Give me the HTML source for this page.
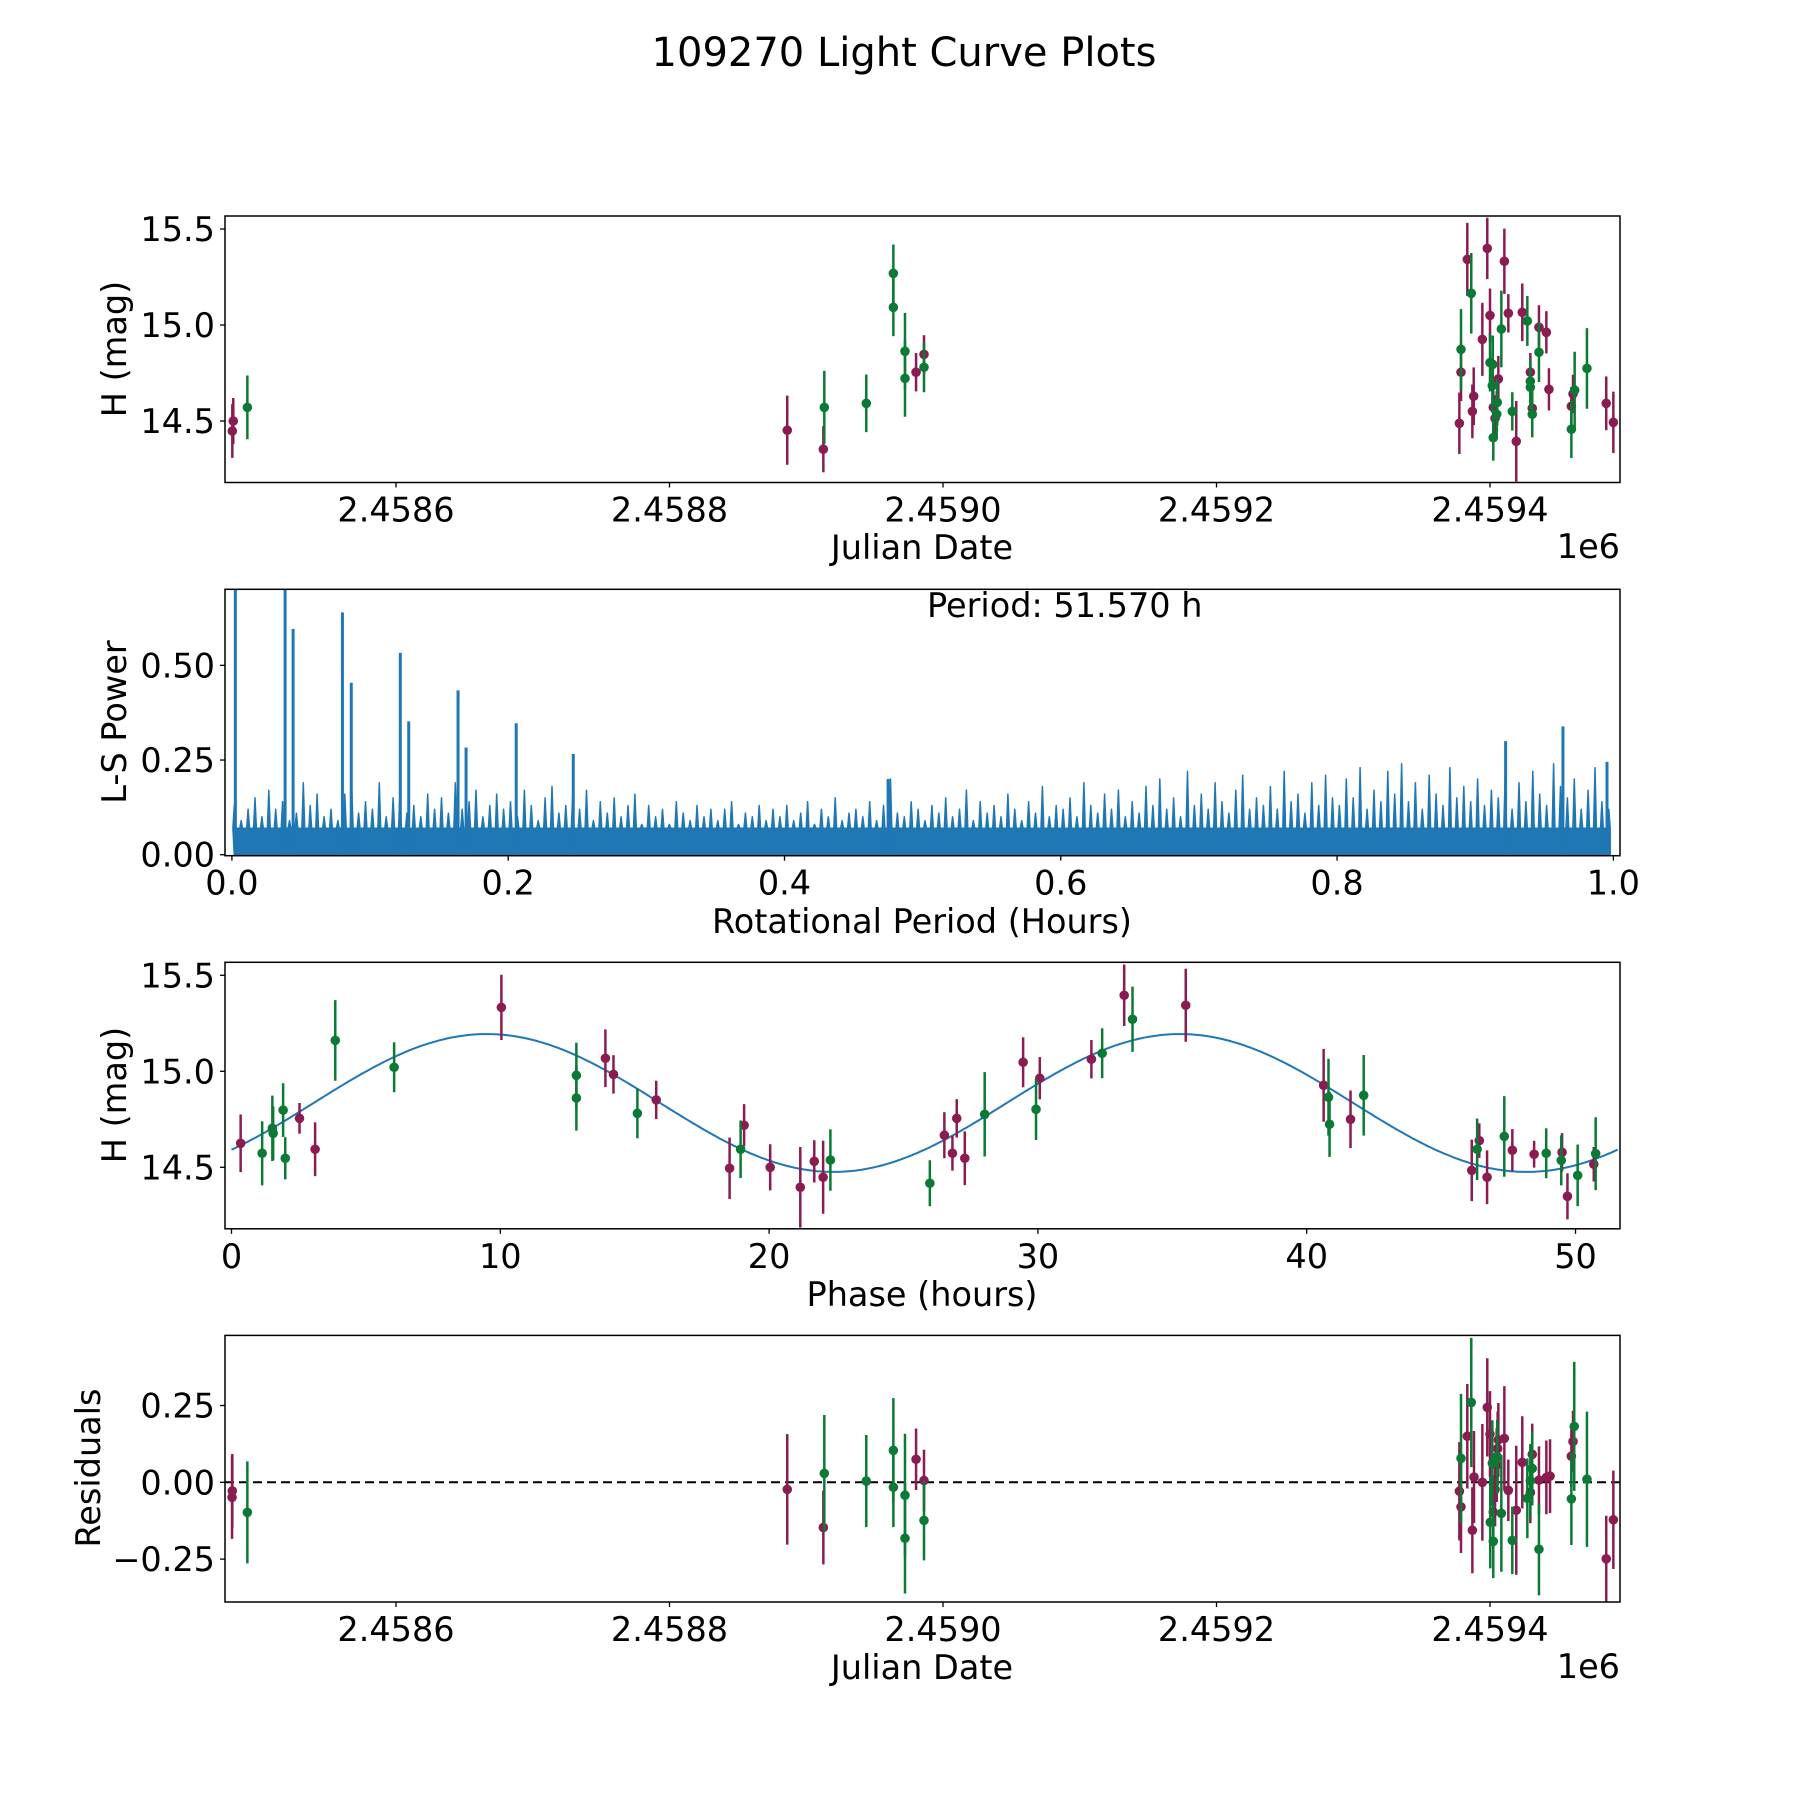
<!DOCTYPE html>
<html><head><meta charset="utf-8"><title>109270 Light Curve Plots</title>
<style>
html,body{margin:0;padding:0;background:#fff;}
svg{display:block;font-family:"DejaVu Sans","Liberation Sans",sans-serif;}
</style></head>
<body>
<svg id="fig" width="1800" height="1800" viewBox="0 0 1800 1800" xmlns="http://www.w3.org/2000/svg">
<rect width="1800" height="1800" fill="#fff"/>
<text x="904" y="66" font-size="40" text-anchor="middle">109270 Light Curve Plots</text>
</svg>
<script>
// ---------- Panel 1: H mag vs Julian Date ----------
const lcMagJD  = [2458480.3,2458481.0,2458886.1,2458912.5,2458980.3,2458986.1,2459383.4,2459398.0,2459410.5,2459378.8,2459377.6,2459394.4,2459400.0,2459413.4,2459423.6,2459435.8,2459441.2,2459406.1,2459388.1,2459387.1,2459402.4,2459403.7,2459419.2,2459429.5,2459430.9,2459443.1,2459460.7,2459459.5,2459485.0,2459490.2];
const lcMagH   = [14.448,14.5,14.452,14.353,14.754,14.847,15.342,15.399,15.332,14.754,14.488,14.925,15.05,15.061,15.066,14.988,14.962,14.719,14.629,14.55,14.571,14.514,14.394,14.754,14.566,14.665,14.641,14.577,14.592,14.493];
const lcMagErr = [0.14,0.12,0.18,0.12,0.1,0.1,0.19,0.16,0.17,0.15,0.16,0.19,0.14,0.1,0.15,0.115,0.11,0.12,0.15,0.14,0.12,0.12,0.21,0.1,0.1,0.11,0.1,0.1,0.14,0.16];
const lcGrnJD  = [2458491.3,2458913.2,2458943.9,2458963.7,2458963.7,2458972.2,2458972.2,2458986.1,2459386.3,2459378.8,2459400.0,2459402.0,2459408.3,2459427.3,2459435.8,2459401.7,2459405.3,2459404.9,2459402.4,2459416.3,2459429.5,2459429.5,2459430.9,2459461.9,2459459.5,2459470.9];
const lcGrnH   = [14.571,14.571,14.592,15.269,15.092,14.863,14.722,14.78,15.165,14.873,14.804,14.795,14.979,15.021,14.858,14.684,14.597,14.536,14.413,14.55,14.707,14.676,14.535,14.661,14.457,14.774];
const lcGrnErr = [0.166,0.19,0.15,0.15,0.15,0.2,0.2,0.13,0.21,0.21,0.15,0.15,0.2,0.13,0.155,0.14,0.12,0.12,0.12,0.1,0.12,0.12,0.12,0.2,0.15,0.21];
const jdTicks = [2458600,2458800,2459000,2459200,2459400];
const jdTickLabels = ["2.4586","2.4588","2.4590","2.4592","2.4594"];
const hTicks = [14.5,15.0,15.5];
const hTickLabels = ["14.5","15.0","15.5"];

// ---------- Panel 2: Lomb-Scargle periodogram ----------
const lsNoiseStart = 0.0017, lsNoiseStep = 0.005, lsTrough = 0.07;
const lsNoisePower = [
0.13,0.09,0.12,0.15,0.10,0.17,0.12,0.14,0.09,0.11,
0.19,0.13,0.16,0.10,0.12,0.09,0.16,0.18,0.11,0.14,
0.12,0.19,0.10,0.15,0.17,0.11,0.13,0.10,0.16,0.12,
0.15,0.11,0.19,0.12,0.14,0.17,0.10,0.13,0.16,0.12,
0.14,0.10,0.17,0.13,0.09,0.15,0.18,0.11,0.13,0.16,
0.12,0.17,0.09,0.14,0.11,0.15,0.10,0.13,0.16,0.08,
0.13,0.10,0.12,0.08,0.14,0.11,0.09,0.13,0.10,0.12,
0.09,0.12,0.14,0.08,0.11,0.10,0.13,0.09,0.12,0.10,
0.13,0.09,0.11,0.14,0.08,0.12,0.10,0.15,0.09,0.11,
0.12,0.10,0.14,0.09,0.13,0.20,0.11,0.10,0.14,0.12,
0.09,0.13,0.11,0.15,0.10,0.12,0.17,0.09,0.14,0.11,
0.13,0.10,0.16,0.12,0.09,0.14,0.11,0.18,0.10,0.13,
0.12,0.15,0.10,0.19,0.13,0.11,0.16,0.12,0.17,0.10,
0.14,0.11,0.18,0.13,0.20,0.12,0.15,0.10,0.22,0.13,
0.16,0.12,0.19,0.14,0.11,0.17,0.21,0.12,0.15,0.13,
0.18,0.12,0.22,0.14,0.16,0.11,0.19,0.13,0.21,0.15,
0.13,0.20,0.15,0.23,0.12,0.17,0.14,0.22,0.16,0.24,
0.14,0.19,0.12,0.21,0.16,0.13,0.23,0.15,0.18,0.14,
0.20,0.13,0.17,0.15,0.21,0.12,0.19,0.14,0.22,0.16,
0.13,0.24,0.18,0.15,0.20,0.12,0.17,0.23,0.14,0.12];
const lsPeakPeriod = [0.0025,0.0385,0.0443,0.080,0.0864,0.1219,0.128,0.1637,0.1695,0.2058,0.2471,0.475,0.922,0.9635,0.9954];
const lsPeakPower  = [0.703,0.712,0.596,0.64,0.454,0.533,0.352,0.434,0.283,0.347,0.266,0.20,0.30,0.339,0.245];
const lsXTicks = [0,0.2,0.4,0.6,0.8,1.0];
const lsXTickLabels = ["0.0","0.2","0.4","0.6","0.8","1.0"];
const lsYTicks = [0,0.25,0.5];
const lsYTickLabels = ["0.00","0.25","0.50"];

// ---------- Panel 3: phased light curve ----------
const phMagPhase = [0.34,2.53,3.11,10.04,13.91,14.21,15.8,18.53,19.07,20.04,21.16,21.68,22.01,26.52,26.82,26.98,27.28,29.45,30.07,31.99,33.21,35.5,40.63,41.63,46.14,46.42,46.71,47.65,48.46,49.5,49.7,50.68];
const phMagH     = [14.625,14.755,14.594,15.333,15.068,14.984,14.851,14.495,14.719,14.5,14.396,14.531,14.448,14.667,14.573,14.755,14.547,15.047,14.964,15.063,15.396,15.344,14.927,14.75,14.484,14.639,14.448,14.589,14.568,14.578,14.349,14.516];
const phMagErr   = [0.15,0.08,0.14,0.17,0.15,0.1,0.1,0.16,0.11,0.12,0.21,0.11,0.19,0.12,0.09,0.1,0.14,0.13,0.11,0.1,0.16,0.19,0.19,0.15,0.16,0.09,0.14,0.11,0.07,0.1,0.12,0.09];
const phGrnPhase = [1.14,1.52,1.55,1.92,2.0,3.86,6.05,12.83,12.83,15.1,18.94,22.28,25.98,28.02,29.93,32.39,33.52,40.81,40.85,42.12,46.34,47.35,48.91,49.47,50.08,50.75];
const phGrnH     = [14.573,14.703,14.677,14.798,14.547,15.161,15.021,14.979,14.861,14.781,14.594,14.538,14.417,14.776,14.802,15.094,15.271,14.865,14.724,14.875,14.594,14.661,14.573,14.536,14.458,14.571];
const phGrnErr   = [0.167,0.17,0.14,0.14,0.11,0.21,0.13,0.17,0.17,0.13,0.15,0.16,0.12,0.22,0.16,0.13,0.17,0.2,0.17,0.21,0.16,0.21,0.13,0.13,0.16,0.19];
const fitPeriod = [51.57];
const fitMean = [14.835];
const fitAmp = [0.359];
const fitPeakPhase = [9.5];
const phXTicks = [0,10,20,30,40,50];
const phXTickLabels = ["0","10","20","30","40","50"];

// ---------- Panel 4: residuals ----------
const resMagJD  = [2458480.3,2458480.1,2458886.1,2458912.5,2458980.3,2458986.1,2459377.6,2459378.8,2459383.4,2459387.1,2459388.3,2459394.4,2459398.0,2459400.0,2459402.4,2459403.7,2459404.9,2459405.6,2459406.1,2459410.5,2459413.4,2459419.2,2459423.6,2459429.5,2459430.9,2459435.8,2459441.2,2459443.9,2459459.5,2459460.7,2459485.0,2459490.2];
const resMagVal = [-0.028,-0.049,-0.023,-0.147,0.075,0.006,-0.029,-0.08,0.15,-0.156,0.017,0,0.244,0.157,-0.097,-0.023,0.056,0.11,0.138,0.143,-0.026,-0.091,0.065,-0.033,0.091,0.007,0.016,0.02,0.085,0.133,-0.249,-0.122];
const resMagErr = [0.12,0.135,0.18,0.12,0.1,0.1,0.16,0.15,0.17,0.14,0.15,0.19,0.16,0.14,0.12,0.12,0.12,0.12,0.12,0.17,0.1,0.21,0.15,0.1,0.1,0.11,0.12,0.12,0.1,0.1,0.14,0.16];
const resGrnJD  = [2458491.3,2458913.2,2458943.9,2458963.7,2458963.7,2458972.2,2458972.2,2458986.1,2459378.8,2459386.3,2459400.2,2459402.4,2459401.7,2459405.3,2459408.3,2459416.3,2459427.3,2459429.5,2459430.9,2459435.8,2459461.6,2459459.5,2459470.9];
const resGrnVal = [-0.098,0.029,0.004,0.104,-0.016,-0.042,-0.182,-0.124,0.078,0.26,-0.13,-0.192,0.062,0.083,-0.101,-0.189,-0.052,0.005,0.045,-0.218,0.182,-0.054,0.01];
const resGrnErr = [0.166,0.19,0.15,0.17,0.13,0.2,0.18,0.13,0.21,0.21,0.15,0.12,0.14,0.12,0.19,0.11,0.13,0.12,0.12,0.15,0.21,0.15,0.22];
const resTicks = [-0.25,0,0.25];
const resTickLabels = ["\u22120.25","0.00","0.25"];

const MAG = "#8a1c52", GRN = "#0b7a34", BLUE = "#1f77b4";
const FS = 33.5;
const NS = "http://www.w3.org/2000/svg";
const fig = document.getElementById('fig');

function mk(tag, attrs, parent){
  const e = document.createElementNS(NS, tag);
  for (const k in attrs) e.setAttribute(k, attrs[k]);
  (parent||fig).appendChild(e);
  return e;
}
function makeAxis(px0, px1, py0, py1, xmin, xmax, ymin, ymax){
  return {px0, px1, py0, py1,
    x: v => px0 + (v - xmin) / (xmax - xmin) * (px1 - px0),
    y: v => py1 - (v - ymin) / (ymax - ymin) * (py1 - py0)};
}
const ax1 = makeAxis(225,1620,216,482.5, 2458474.95,2459495.06, 14.1797,15.5677);
const ax2 = makeAxis(225,1620,589.3,855.7, -0.005,1.0048, -0.0026,0.7008);
const ax3 = makeAxis(225,1620,962.3,1228.8, -0.242,51.655, 14.1797,15.5677);
const ax4 = makeAxis(225,1620,1335.4,1602, 2458474.95,2459495.06, -0.3896,0.4782);

function clipFor(ax, id){
  const defs = mk('defs', {});
  const cp = mk('clipPath', {id: id}, defs);
  mk('rect', {x: ax.px0, y: ax.py0, width: ax.px1-ax.px0, height: ax.py1-ax.py0}, cp);
}
function frame(ax, name){
  const r = mk('rect', {x: ax.px0, y: ax.py0, width: ax.px1-ax.px0, height: ax.py1-ax.py0, fill:'none', stroke:'#000', 'stroke-width':1.5});
  
  
}
function xTicks(ax, vals, labels, name){
  const g = mk('g', {});
  
  
  vals.forEach((v,i)=>{
    const X = ax.x(v);
    mk('line', {x1:X, x2:X, y1:ax.py1, y2:ax.py1+5, stroke:'#000','stroke-width':1.3}, g);
    const t = mk('text', {x:X, y:ax.py1+39, 'font-size':FS, 'text-anchor':'middle'}, g);
    t.textContent = labels[i];
  });
}
function yTicks(ax, vals, labels, name){
  const g = mk('g', {});
  
  
  vals.forEach((v,i)=>{
    const Y = ax.y(v);
    mk('line', {x1:ax.px0-5, x2:ax.px0, y1:Y, y2:Y, stroke:'#000','stroke-width':1.3}, g);
    const t = mk('text', {x:ax.px0-10, y:Y+12, 'font-size':FS, 'text-anchor':'end'}, g);
    t.textContent = labels[i];
  });
}
function label(x, y, txt, name, rot, anchor){
  const t = mk('text', {x:x, y:y, 'font-size':FS, 'text-anchor':anchor||'middle'});
  if (rot) t.setAttribute('transform', 'rotate(-90 '+x+' '+y+')');
  t.textContent = txt;
  
  
}
function errSeries(ax, xs, ys, es, color, name, clipId){
  const g = mk('g', {'clip-path':'url(#'+clipId+')'});
  
  
  xs.forEach((xv,i)=>{
    const X = ax.x(xv);
    mk('line', {x1:X, x2:X, y1:ax.y(ys[i]-es[i]), y2:ax.y(ys[i]+es[i]), stroke:color, 'stroke-width':2.5}, g);
  });
  xs.forEach((xv,i)=>{
    const c = mk('circle', {cx:ax.x(xv), cy:ax.y(ys[i]), r:4.8, fill:color}, g);
    
    
  });
}

// Panel 1
clipFor(ax1,'c1');
errSeries(ax1, lcMagJD, lcMagH, lcMagErr, MAG, 'magnitude-series-a', 'c1');
errSeries(ax1, lcGrnJD, lcGrnH, lcGrnErr, GRN, 'magnitude-series-b', 'c1');
frame(ax1, 'lightcurve-axes');
xTicks(ax1, jdTicks, jdTickLabels, 'lightcurve-x-ticks');
yTicks(ax1, hTicks, hTickLabels, 'lightcurve-y-ticks');
label(922, 559, 'Julian Date', 'lightcurve-x-title');
label(1620, 558, '1e6', 'lightcurve-x-offset', false, 'end');
label(126, 349, 'H (mag)', 'lightcurve-y-title', true);

// Panel 2
clipFor(ax2,'c2');
{
  const g = mk('g', {'clip-path':'url(#c2)'});
  
  
  let d = 'M'+ax2.x(lsNoiseStart)+' '+ax2.y(0);
  lsNoisePower.forEach((v,i)=>{
    const p = lsNoiseStart + i*lsNoiseStep;
    d += ' L'+ax2.x(p-0.001).toFixed(1)+' '+ax2.y(lsTrough).toFixed(1);
    d += ' L'+ax2.x(p).toFixed(1)+' '+ax2.y(v).toFixed(1);
    d += ' L'+ax2.x(p+0.001).toFixed(1)+' '+ax2.y(lsTrough).toFixed(1);
  });
  const lastP = lsNoiseStart + (lsNoisePower.length-1)*lsNoiseStep + 0.001;
  d += ' L'+ax2.x(lastP).toFixed(1)+' '+ax2.y(0)+' Z';
  mk('path', {d:d, fill:BLUE, stroke:BLUE, 'stroke-width':1.5, 'stroke-linejoin':'round'}, g);
  lsPeakPeriod.forEach((p,i)=>{
    const ln = mk('line', {x1:ax2.x(p), x2:ax2.x(p), y1:ax2.y(0), y2:ax2.y(lsPeakPower[i]), stroke:BLUE, 'stroke-width':3}, g);
    
    
  });
}
frame(ax2, 'periodogram-axes');
xTicks(ax2, lsXTicks, lsXTickLabels, 'periodogram-x-ticks');
yTicks(ax2, lsYTicks, lsYTickLabels, 'periodogram-y-ticks');
label(922, 933, 'Rotational Period (Hours)', 'periodogram-x-title');
label(126, 722, 'L-S Power', 'periodogram-y-title', true);
label(927, 617, 'Period: 51.570 h', 'period-annotation', false, 'start');

// Panel 3
clipFor(ax3,'c3');
{
  const g = mk('g', {'clip-path':'url(#c3)'});
  
  
  let pts = [];
  const N = 400;
  for (let i=0;i<=N;i++){
    const t = fitPeriod[0]*i/N;
    const m = fitMean[0] + fitAmp[0]*Math.cos(4*Math.PI*(t-fitPeakPhase[0])/fitPeriod[0]);
    pts.push(ax3.x(t).toFixed(1)+','+ax3.y(m).toFixed(1));
  }
  mk('polyline', {points: pts.join(' '), fill:'none', stroke:BLUE, 'stroke-width':2}, g);
}
errSeries(ax3, phMagPhase, phMagH, phMagErr, MAG, 'phased-series-a', 'c3');
errSeries(ax3, phGrnPhase, phGrnH, phGrnErr, GRN, 'phased-series-b', 'c3');
frame(ax3, 'phased-axes');
xTicks(ax3, phXTicks, phXTickLabels, 'phased-x-ticks');
yTicks(ax3, hTicks, hTickLabels, 'phased-y-ticks');
label(922, 1306, 'Phase (hours)', 'phased-x-title');
label(126, 1095, 'H (mag)', 'phased-y-title', true);

// Panel 4
clipFor(ax4,'c4');
{
  const l = mk('line', {x1:ax4.px0, x2:ax4.px1, y1:ax4.y(0), y2:ax4.y(0), stroke:'#000', 'stroke-width':2, 'stroke-dasharray':'9,5'});
  
  
}
errSeries(ax4, resMagJD, resMagVal, resMagErr, MAG, 'residual-series-a', 'c4');
errSeries(ax4, resGrnJD, resGrnVal, resGrnErr, GRN, 'residual-series-b', 'c4');
frame(ax4, 'residuals-axes');
xTicks(ax4, jdTicks, jdTickLabels, 'residuals-x-ticks');
yTicks(ax4, resTicks, resTickLabels, 'residuals-y-ticks');
label(922, 1679, 'Julian Date', 'residuals-x-title');
label(1620, 1678, '1e6', 'residuals-x-offset', false, 'end');
label(100, 1468, 'Residuals', 'residuals-y-title', true);
</script>
</body></html>
